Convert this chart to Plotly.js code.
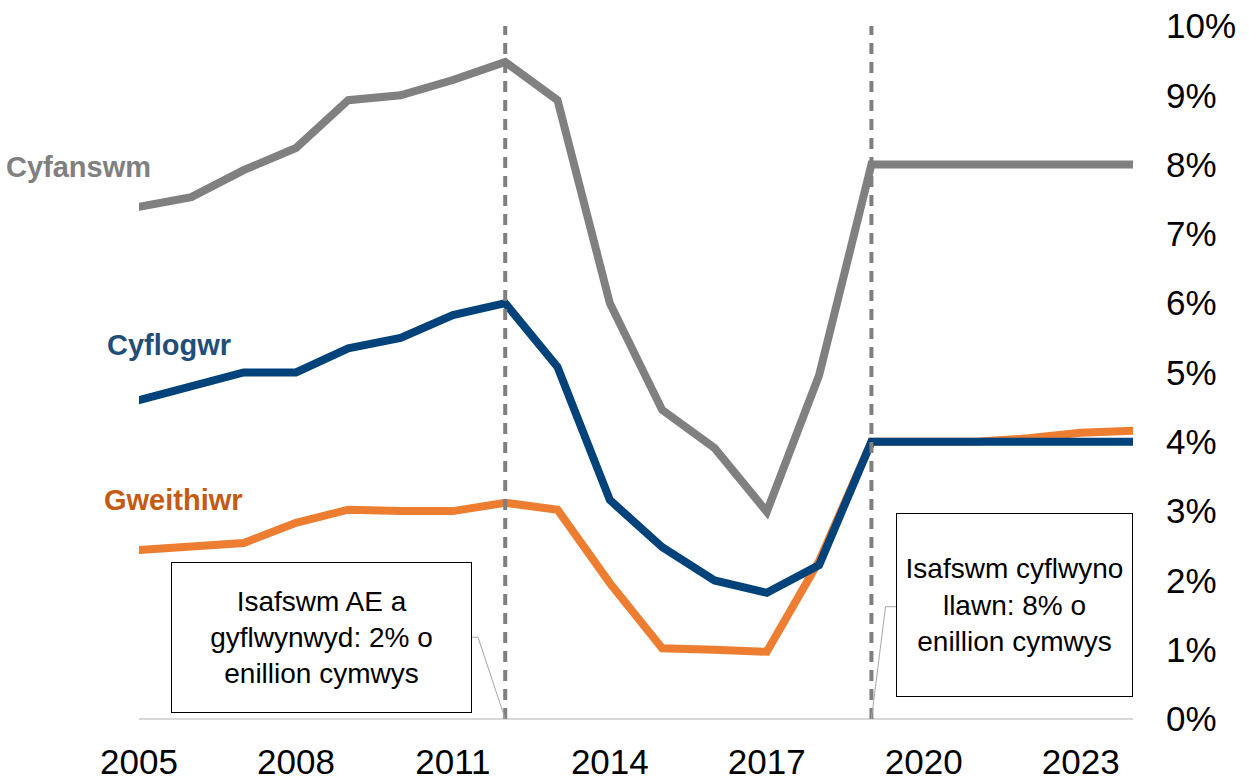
<!DOCTYPE html>
<html>
<head>
<meta charset="utf-8">
<script src="https://cdn.plot.ly/plotly-3.0.1.min.js"></script>
<style>
html,body{margin:0;padding:0;background:#fff;}
#chart{width:1249px;height:781px;}
.scatterlayer path.js-line{stroke-linecap:round;}
</style>
</head>
<body>
<div id="chart"></div>
<script>
const years = [2005,2006,2007,2008,2009,2010,2011,2012,2013,2014,2015,2016,2017,2018,2019,2020,2021,2022,2023,2024];
const totalRate    = [7.39,7.53,7.92,8.24,8.93,9.00,9.22,9.48,8.93,6.00,4.46,3.91,2.99,4.96,8.00,8.00,8.00,8.00,8.00,8.00];
const employerRate = [4.60,4.81,5.00,5.00,5.35,5.50,5.83,6.00,5.08,3.16,2.48,2.00,1.82,2.22,4.00,4.00,4.00,4.00,4.00,4.00];
const employeeRate = [2.44,2.49,2.54,2.83,3.02,3.00,3.00,3.12,3.02,1.96,1.02,1.00,0.97,2.28,4.00,4.00,4.00,4.05,4.13,4.16];
const seriesNames = ["Cyfanswm","Cyflogwr","Gweithiwr"];
const xTicks = [2005,2008,2011,2014,2017,2020,2023];
const yTicks = [0,1,2,3,4,5,6,7,8,9,10];
const yTickText = yTicks.map(v => v + "%");
const markerYears = [2012, 2019];
const noteTexts = [
  "Isafswm AE a<br>gyflwynwyd: 2% o<br>enillion cymwys",
  "Isafswm cyflwyno<br>llawn: 8% o<br>enillion cymwys"
];

const FONT = "Arial, 'Liberation Sans', sans-serif";
const cGray = "#808080", cBlue = "#00427A", cOrange = "#ED7D31";

const traces = [
  {x: years, y: totalRate, name: seriesNames[0], mode: "lines", line: {color: cGray, width: 8}},
  {x: years, y: employeeRate, name: seriesNames[2], mode: "lines", line: {color: cOrange, width: 8}},
  {x: years, y: employerRate, name: seriesNames[1], mode: "lines", line: {color: cBlue, width: 8}}
];

const shapes = markerYears.map(yr => ({
  type: "line", xref: "x", yref: "y", x0: yr, x1: yr, y0: 0, y1: 10,
  line: {color: "#7F7F7F", width: 4, dash: "11px,8px"}, layer: "above"
}));
// leader lines
shapes.push({type: "path", xref: "x", yref: "y", path: "M 2011.37,1.18 L 2011.48,1.18 L 2012,0", line: {color: "#A6A6A6", width: 1}});
shapes.push({type: "path", xref: "x", yref: "y", path: "M 2019.48,1.62 L 2019.27,1.62 L 2019,0", line: {color: "#A6A6A6", width: 1}});

const annotations = [
  {x: 2005.27, y: 7.97, xref: "x", yref: "y", xanchor: "right", yanchor: "middle", showarrow: false,
   text: "<b>" + seriesNames[0] + "</b>", font: {family: FONT, size: 29, color: "#808080"}},
  {x: 2006.8, y: 5.4, xref: "x", yref: "y", xanchor: "right", yanchor: "middle", showarrow: false,
   text: "<b>" + seriesNames[1] + "</b>", font: {family: FONT, size: 29, color: "#1F4E79"}},
  {x: 2007.03, y: 3.16, xref: "x", yref: "y", xanchor: "right", yanchor: "middle", showarrow: false,
   text: "<b>" + seriesNames[2] + "</b>", font: {family: FONT, size: 29, color: "#C55A11"}},
  {x: 2008.49, y: 1.18, xref: "x", yref: "y", xanchor: "center", yanchor: "middle", showarrow: false,
   text: noteTexts[0], align: "center", width: 299, height: 149, borderpad: 0,
   bordercolor: "#000", borderwidth: 1, bgcolor: "#fff",
   font: {family: FONT, size: 28, color: "#000"}},
  {x: 2021.73, y: 1.645, xref: "x", yref: "y", xanchor: "center", yanchor: "middle", showarrow: false,
   text: noteTexts[1], align: "center", width: 235, height: 182, borderpad: 0,
   bordercolor: "#000", borderwidth: 1, bgcolor: "#fff",
   font: {family: FONT, size: 28, color: "#000"}}
];

const layout = {
  width: 1249, height: 781,
  margin: {l: 139, r: 116, t: 26, b: 62},
  paper_bgcolor: "#fff", plot_bgcolor: "#fff",
  showlegend: false,
  font: {family: FONT, color: "#000"},
  xaxis: {
    range: [2005, 2024], tickvals: xTicks, ticktext: xTicks.map(String),
    showgrid: false, zeroline: false, showline: false, ticks: "",
    tickfont: {family: FONT, size: 35, color: "#000"}, ticklabelstandoff: 19
  },
  yaxis: {
    range: [0, 10], side: "right", tickvals: yTicks, ticktext: yTickText,
    showgrid: false, zeroline: true, zerolinecolor: "#D9D9D9", zerolinewidth: 1.5,
    showline: false, ticks: "",
    tickfont: {family: FONT, size: 35, color: "#000"}, ticklabelstandoff: 32
  },
  shapes: shapes,
  annotations: annotations
};

Plotly.newPlot("chart", traces, layout, {displayModeBar: false, staticPlot: true});
</script>
</body>
</html>
